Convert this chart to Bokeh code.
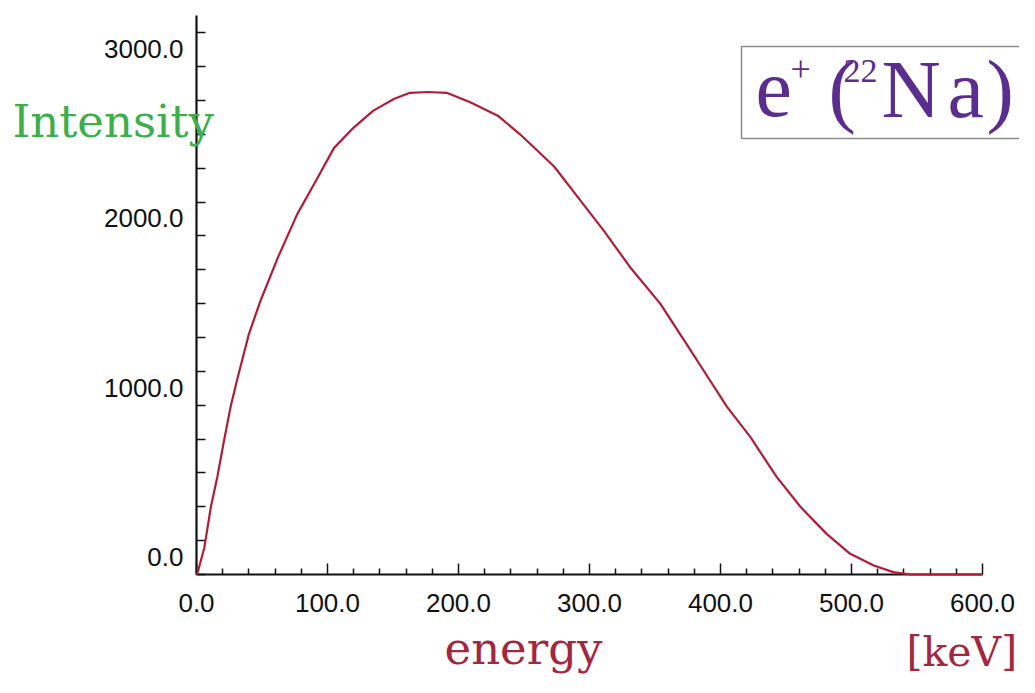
from bokeh.plotting import figure
from bokeh.models import (Range1d, FixedTicker, Label, LabelSet, ColumnDataSource)
from bokeh.core.properties import value
from bokeh.embed import file_html
from bokeh.resources import INLINE

# ---- data ----
energy = [0, 1, 6, 11, 16, 21, 26, 31, 40, 49, 62, 77, 90, 105, 120, 135, 151, 163,
          177, 191, 209, 230, 247, 273, 293, 311, 331, 354, 375, 385, 405, 423, 443,
          461, 481, 499, 517, 532, 545, 600]
intensity = [0, 15, 160, 400, 580, 790, 990, 1150, 1420, 1620, 1870, 2130, 2310, 2520,
             2640, 2740, 2810, 2845, 2850, 2845, 2790, 2710, 2600, 2410, 2210, 2030,
             1815, 1600, 1350, 1230, 990, 810, 575, 400, 240, 122, 53, 14, 0, 0]

x_ticks = [0, 100, 200, 300, 400, 500, 600]
x_tick_labels = ["0.0", "100.0", "200.0", "300.0", "400.0", "500.0", "600.0"]
x_minor = [20, 40, 60, 80, 120, 140, 160, 180, 220, 240, 260, 280, 320, 340, 360, 380,
           420, 440, 460, 480, 520, 540, 560, 580]
y_ticks = [0, 1000, 2000, 3000]
y_tick_labels = ["0.0", "1000.0", "2000.0", "3000.0"]
y_minor = [200, 400, 600, 800, 1200, 1400, 1600, 1800, 2200, 2400, 2600, 2800, 3200]

# ---- layout helpers (picture pixel -> data coordinate) ----
W, H = 1019, 677
X0_PX, X_SCALE = 196.0, 1.31      # px of x=0, px per keV
Y0_PX, Y_SCALE = 574.0, 0.1693    # px of y=0, px per count
K_BASE = 0.38                     # baseline correction (fraction of font size)


def rx(px):
    return (px - X0_PX) / X_SCALE


def ry(py):
    return (Y0_PX - py) / Y_SCALE


def ry_base(py, fs):
    return ry(py - K_BASE * fs)


p = figure(width=W, height=H, output_backend="svg", toolbar_location=None,
           x_range=Range1d(rx(0), rx(W)), y_range=Range1d(ry(H), ry(0)),
           min_border_left=0, min_border_right=0, min_border_top=0,
           min_border_bottom=0)
p.outline_line_color = None
p.background_fill_color = "white"
p.border_fill_color = "white"
p.xgrid.visible = False
p.ygrid.visible = False

# x axis (placed at y = 0)
xa = p.xaxis[0]
xa.fixed_location = 0
xa.ticker = FixedTicker(ticks=x_ticks, minor_ticks=x_minor)
xa.major_label_overrides = {v: s for v, s in zip(x_ticks, x_tick_labels)}
xa.bounds = (0, 600)
xa.axis_line_width = 2.2
xa.axis_line_color = "#111111"
xa.major_tick_in = 11
xa.major_tick_out = 0
xa.minor_tick_in = 6
xa.minor_tick_out = 0
xa.major_tick_line_width = 1.5
xa.minor_tick_line_width = 1.5
xa.major_tick_line_color = "#111111"
xa.minor_tick_line_color = "#111111"
xa.major_label_text_font = "Liberation Sans"
xa.major_label_text_font_size = "26px"
xa.major_label_text_color = "#111111"
xa.major_label_standoff = 19

# y axis (placed at x = 0; labels drawn separately, they sit above their ticks)
ya = p.yaxis[0]
ya.fixed_location = 0
ya.ticker = FixedTicker(ticks=y_ticks, minor_ticks=y_minor)
ya.bounds = (0, 3300)
ya.axis_line_width = 2.2
ya.axis_line_color = "#111111"
ya.major_tick_in = 9
ya.major_tick_out = 0
ya.minor_tick_in = 9
ya.minor_tick_out = 0
ya.major_tick_line_width = 1.5
ya.minor_tick_line_width = 1.5
ya.major_tick_line_color = "#111111"
ya.minor_tick_line_color = "#111111"
ya.major_label_text_font_size = "0px"
ya.major_label_text_alpha = 0

ysrc = ColumnDataSource(dict(
    x=[rx(183)] * len(y_ticks),
    y=[v + 17.5 / Y_SCALE for v in y_ticks],
    t=y_tick_labels))
p.add_layout(LabelSet(x="x", y="y", text="t", source=ysrc, text_align="right",
                      text_baseline="middle", text_font=value("Liberation Sans"),
                      text_font_size=value("26px"), text_color="#111111"))

# spectrum curve
p.line(energy, intensity, line_color="#b21d36", line_width=2.2, level="overlay")

# axis titles
p.add_layout(Label(x=rx(12), y=ry_base(138, 45), text="Intensity",
                   text_font="DejaVu Serif", text_font_size="45px",
                   text_color="#3cae4b", text_align="left",
                   text_baseline="alphabetic"))
p.add_layout(Label(x=rx(444), y=ry_base(665, 45), text="energy",
                   text_font="DejaVu Serif", text_font_size="45px",
                   text_color="#a3273f", text_align="left",
                   text_baseline="alphabetic"))
p.add_layout(Label(x=rx(906), y=ry_base(667, 41), text="[keV]",
                   text_font="DejaVu Serif", text_font_size="41px",
                   text_color="#a3273f", text_align="left",
                   text_baseline="alphabetic"))

# title box (open on the right)
p.line([rx(1040), rx(741), rx(741), rx(1040)], [ry(46), ry(46), ry(138), ry(138)],
       line_color="#8c8c8c", line_width=1.5)

purple = "#5b2d8e"
title_parts = [
    ("e", 755, 120, 82),
    ("+", 790, 82, 36),
    ("(", 828, 120, 82),
    ("22", 843, 83, 34),
    ("N", 881, 120, 82),
    ("a", 947, 120, 82),
    (")", 986, 120, 82),
]
for txt, px, py, fs in title_parts:
    p.add_layout(Label(x=rx(px), y=ry_base(py, fs), text=txt,
                       text_font="Liberation Serif", text_font_size=f"{fs}px",
                       text_color=purple, text_align="left",
                       text_baseline="alphabetic"))

open("out.html", "w").write(file_html(p, INLINE))
